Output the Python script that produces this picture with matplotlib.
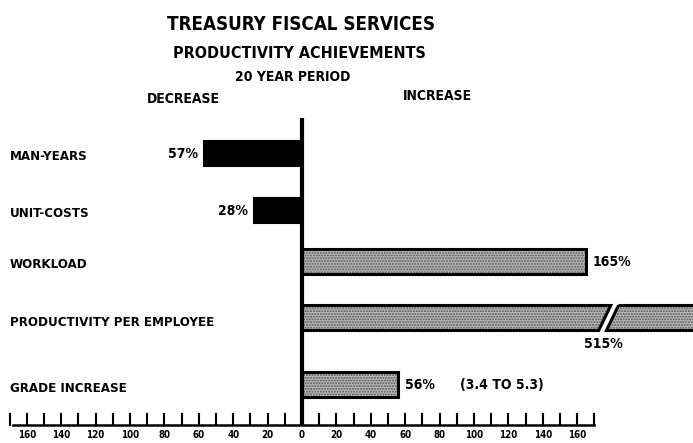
import matplotlib
matplotlib.use("Agg")
import matplotlib.pyplot as plt
from matplotlib.patches import Polygon
from matplotlib import font_manager

# ---- data ----
categories = ["MAN-YEARS", "UNIT-COSTS", "WORKLOAD", "PRODUCTIVITY PER EMPLOYEE", "GRADE INCREASE"]
values = [-57, -28, 165, 515, 56]          # percent change (negative = decrease)
value_labels = ["57%", "28%", "165%", "515%", "56%"]
grade_note = "(3.4 TO 5.3)"
scale_labels = [160, 140, 120, 100, 80, 60, 40, 20, 0, 20, 40, 60, 80, 100, 120, 140, 160]
scale_ticks = [-160, -140, -120, -100, -80, -60, -40, -20, 0, 20, 40, 60, 80, 100, 120, 140, 160]

W, H = 693, 443
names = {f.name for f in font_manager.fontManager.ttflist}
FAM = ["Liberation Sans Narrow", "DejaVu Sans"] if "Liberation Sans Narrow" in names else ["DejaVu Sans"]
STRETCH = "normal" if "Liberation Sans Narrow" in names else "condensed"

fig = plt.figure(figsize=(W / 100, H / 100), dpi=100)
ax = fig.add_axes([0, 0, 1, 1])
ax.axis("off")
PX = 1.72            # pixels per percent unit
X0 = 302             # pixel of zero
ax.set_xlim(-X0 / PX, (W - X0) / PX)
ax.set_ylim(H, 0)    # y in pixel rows

bar_y = [153, 210, 261, 318, 384]   # layout: bar centre rows
bar_h = 25
BREAK = 176          # where the long bar is broken
FILL = "#b9b9b9"
DOTS = "#555555"

def ftxt(px, py, s, size, ha="left", va="center"):
    fig.text(px / W, 1 - py / H, s, fontsize=size, fontweight="bold",
             family=FAM, stretch=STRETCH, ha=ha, va=va, color="black")

# titles
ftxt(301, 25, "TREASURY FISCAL SERVICES", 13.5, ha="center")
ftxt(299, 53, "PRODUCTIVITY ACHIEVEMENTS", 11.5, ha="center")
ftxt(293, 77, "20 YEAR PERIOD", 10, ha="center")
ftxt(183, 99, "DECREASE", 10, ha="center")
ftxt(437, 96, "INCREASE", 10, ha="center")

# category labels
for cat, y in zip(categories, bar_y):
    ftxt(10, y + 4, cat, 9.5)

for v, lab, y in zip(values, value_labels, bar_y):
    if v < 0:
        ax.barh(y, v, height=bar_h, color="black", edgecolor="black", linewidth=1.5, zorder=3)
        ax.text(v - 3.5, y + 1, lab, ha="right", va="center", fontsize=10, fontweight="bold",
                family=FAM, stretch=STRETCH)
    elif v <= BREAK:
        ax.barh(y, v, height=bar_h, facecolor=FILL, hatch="......", edgecolor=DOTS,
                linewidth=0, zorder=2)
        ax.barh(y, v, height=bar_h, facecolor="none", edgecolor="black", linewidth=2.2, zorder=3)
        ax.text(v + 4, y + 1, lab, ha="left", va="center", fontsize=10, fontweight="bold",
                family=FAM, stretch=STRETCH)
    else:
        top, bot = y - bar_h / 2, y + bar_h / 2
        sl = 3.5
        xr = ax.get_xlim()[1] + 5
        p1 = [(0, top), (BREAK + sl, top), (BREAK - sl, bot), (0, bot)]
        p2 = [(BREAK + sl + 4.5, top), (xr, top), (xr, bot), (BREAK - sl + 4.5, bot)]
        for p in (p1, p2):
            ax.add_patch(Polygon(p, closed=True, facecolor=FILL, hatch="......",
                                 edgecolor=DOTS, linewidth=0, zorder=2))
            ax.add_patch(Polygon(p, closed=True, facecolor="none", edgecolor="black",
                                 linewidth=2.2, zorder=3, joinstyle="miter"))
        ax.text(BREAK - 1, bot + 13, lab, ha="center", va="center", fontsize=10,
                fontweight="bold", family=FAM, stretch=STRETCH)

# grade note
ax.text(values[4] + 36, bar_y[4] + 1, grade_note, ha="left", va="center", fontsize=10,
        fontweight="bold", family=FAM, stretch=STRETCH)

# vertical zero axis
ax.plot([0, 0], [118, 426], color="black", linewidth=3, zorder=4, solid_capstyle="butt")

# bottom scale
BASE = 425
ax.plot([-168, 170], [BASE, BASE], color="black", linewidth=1.8, zorder=4)
for t in range(-170, 171, 10):
    if t == 0:
        continue
    ax.plot([t, t], [BASE, BASE - 11], color="black", linewidth=1.5, zorder=4)
for t, lab in zip(scale_ticks, scale_labels):
    ax.text(t, 435, str(lab), ha="center", va="center", fontsize=7, fontweight="bold",
            family=FAM, stretch=STRETCH)

fig.savefig("out.png", dpi=100)
